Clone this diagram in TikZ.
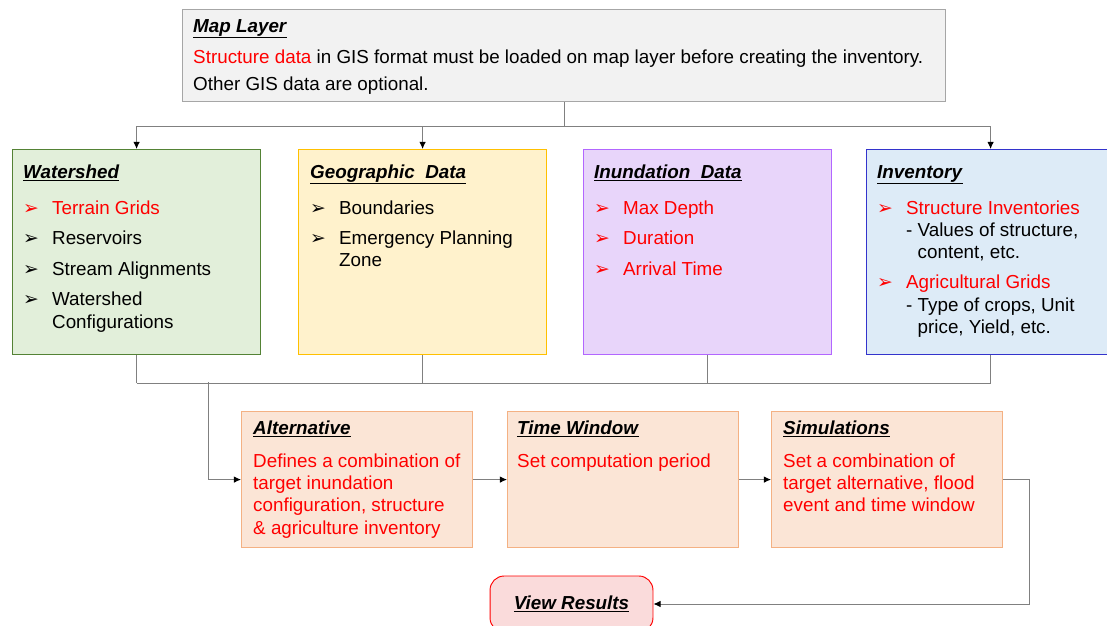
\documentclass[tikz,border=0pt]{standalone}
\usepackage{fontspec}
\setmainfont{Liberation Sans}
\newfontfamily\symfont{DejaVu Sans}
\usetikzlibrary{arrows.meta,calc,positioning}

\definecolor{txtred}{RGB}{255,0,0}
\definecolor{lnkgray}{RGB}{128,128,128}
\definecolor{mapfill}{RGB}{242,242,242}
\definecolor{mapline}{RGB}{166,166,166}
\definecolor{wsfill}{RGB}{226,239,218}
\definecolor{wsline}{RGB}{84,130,53}
\definecolor{geofill}{RGB}{255,242,204}
\definecolor{geoline}{RGB}{255,192,0}
\definecolor{inufill}{RGB}{232,213,250}
\definecolor{inuline}{RGB}{178,102,255}
\definecolor{invfill}{RGB}{221,235,247}
\definecolor{invline}{RGB}{51,51,204}
\definecolor{stepfill}{RGB}{251,229,214}
\definecolor{stepline}{RGB}{244,177,131}
\definecolor{resfill}{RGB}{250,219,219}

\newcommand{\hd}[1]{\underline{\textbf{\textit{#1}}}}
\newcommand{\bul}[1]{\textcolor{#1}{\symfont\fontsize{16}{16}\selectfont ➢}}
\newcommand{\txt}{\fontsize{16}{19}\selectfont}

\tikzset{
  box/.style={draw, line width=1pt, anchor=north west, inner sep=0pt},
  databox/.style={box, minimum width=210.8pt, minimum height=174.25pt},
  stepbox/.style={box, fill=stepfill, draw=stepline, minimum width=196.35pt, minimum height=115.6pt},
  head/.style={anchor=base west, inner sep=0pt, font=\txt},
  body/.style={anchor=base west, inner sep=0pt, font=\txt},
  link/.style={draw=lnkgray, line width=0.8pt},
  flow/.style={link, -{Latex[length=6pt,width=5.5pt,color=black]}}
}

\begin{document}
\begin{tikzpicture}[x=0.85pt,y=-0.85pt]
        \path[use as bounding box, clip] (0,0) rectangle (1107,625);

        % map layer
        \node[box, fill=mapfill, draw=mapline, minimum width=648.6pt, minimum height=78.2pt] (map) at (182,9) {};
        \node[body] (mapT) at ($(map.north west)+(11,23)$) {\begin{tabular}[t]{@{}l@{}}
            \hd{Map Layer}\\[7.7pt]
            \textcolor{txtred}{Structure data} in GIS format must be loaded on map layer before creating the inventory.\\[4pt]
            Other GIS data are optional.
          \end{tabular}};

        % data boxes
        \node[databox, fill=wsfill, draw=wsline] (ws) at (12,149) {};
        \node[databox, fill=geofill, draw=geoline] (geo) at (298,149) {};
        \node[databox, fill=inufill, draw=inuline] (inu) at (583,149) {};
        \node[databox, fill=invfill, draw=invline] (inv) at (866,149) {};

        \node[head] (wsH) at ($(ws.north west)+(11,29)$) {\hd{Watershed}};
        \node[body] (wsT) at ($(ws.north west)+(11,65)$) {\begin{tabular}[t]{@{}p{24.6pt}@{}l@{}}
            \bul{txtred} & \textcolor{txtred}{Terrain Grids}\\[7pt]
            \bul{black} & Reservoirs\\[7pt]
            \bul{black} & Stream Alignments\\[7pt]
            \bul{black} & Watershed\\
                        & Configurations
          \end{tabular}};

        \node[head] (geoH) at ($(geo.north west)+(12,29)$) {\hd{Geographic\ \ Data}};
        \node[body] (geoT) at ($(geo.north west)+(12,65)$) {\begin{tabular}[t]{@{}p{24.6pt}@{}l@{}}
            \bul{black} & Boundaries\\[7pt]
            \bul{black} & Emergency Planning\\
                        & Zone
          \end{tabular}};

        \node[head] (inuH) at ($(inu.north west)+(11,29)$) {\hd{Inundation\ \ Data}};
        \node[body] (inuT) at ($(inu.north west)+(11,65)$) {\begin{tabular}[t]{@{}p{24.6pt}@{}l@{}}
            \bul{txtred} & \textcolor{txtred}{Max Depth}\\[7pt]
            \bul{txtred} & \textcolor{txtred}{Duration}\\[7pt]
            \bul{txtred} & \textcolor{txtred}{Arrival Time}
          \end{tabular}};

        \node[head] (invH) at ($(inv.north west)+(11,29)$) {\hd{Inventory}};
        \node[body] (invT) at ($(inv.north west)+(11,65)$) {\begin{tabular}[t]{@{}p{24.6pt}@{}l@{}}
            \bul{txtred} & \textcolor{txtred}{Structure Inventories}\\
                         & - Values of structure,\\
                         & \phantom{- }content, etc.\\[6.5pt]
            \bul{txtred} & \textcolor{txtred}{Agricultural Grids}\\
                         & - Type of crops, Unit\\
                         & \phantom{- }price, Yield, etc.
          \end{tabular}};

        % steps
        \node[stepbox] (alt) at (241,411) {};
        \node[stepbox] (tw) at (507,411) {};
        \node[stepbox] (sim) at (771,411) {};

        \node[head] (altH) at ($(alt.north west)+(12,23)$) {\hd{Alternative}};
        \node[body, text=txtred] (altT) at ($(alt.north west)+(12,56)$) {\begin{tabular}[t]{@{}l@{}}
            Defines a combination of\\
            target inundation\\
            configuration, structure\\
            \& agriculture inventory
          \end{tabular}};
        \node[head] (twH) at ($(tw.north west)+(10,23)$) {\hd{Time Window}};
        \node[body, text=txtred] (twT) at ($(tw.north west)+(10,56)$) {Set computation period};
        \node[head] (simH) at ($(sim.north west)+(12,23)$) {\hd{Simulations}};
        \node[body, text=txtred] (simT) at ($(sim.north west)+(12,56)$) {\begin{tabular}[t]{@{}l@{}}
            Set a combination of\\
            target alternative, flood\\
            event and time window
          \end{tabular}};

        \node[draw=txtred, line width=0.8pt, fill=resfill, rounded corners=12pt, minimum width=138.5pt, minimum height=47.6pt, font=\txt] (res) at (571.5,604) {\hd{View Results}};

        % connectors
        \draw[link] (map.south) -- ++(0,24) coordinate (split);
        \draw[link] (split -| ws.north) -- (split -| inv.north);
        \draw[flow] (split -| ws.north) -- (ws.north);
        \draw[flow] (split -| geo.north) -- (geo.north);
        \draw[flow] (split -| inv.north) -- (inv.north);

        \draw[link] (ws.south) -- ++(0,28) coordinate (merge);
        \draw[link] (merge) -- (merge -| inv.south) -- (inv.south);
        \draw[link] (geo.south) -- (geo.south |- merge);
        \draw[link] (inu.south) -- (inu.south |- merge);
        \coordinate (drop) at (208,382);
        \draw[flow] (drop) |- (alt.west);

        \draw[flow] (alt) -- (tw);
        \draw[flow] (tw) -- (sim);
        \draw[flow] (sim.east) -- ++(26,0) |- (res.east);
\end{tikzpicture}
\end{document}
